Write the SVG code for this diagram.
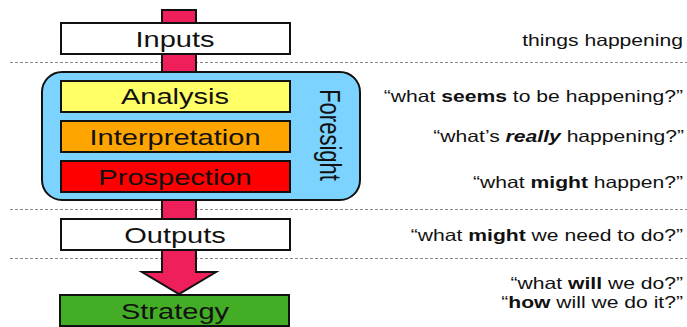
<svg xmlns="http://www.w3.org/2000/svg" width="687" height="327" viewBox="0 0 687 327">
<style>
.dash{stroke:#8a8a8a;stroke-width:1;stroke-dasharray:3,2;fill:none}
.box{stroke:#111;stroke-width:2}
.lbl{font-family:"Liberation Sans",Arial,sans-serif;font-size:22px;fill:#111;text-anchor:middle}
.q{font-family:"Liberation Sans",Arial,sans-serif;font-size:16.5px;fill:#111;text-anchor:end}
.b{font-weight:bold}
</style>
<rect width="687" height="327" fill="#fff"/>
<g id="separators">
<line class="dash" x1="10" y1="62.5" x2="687" y2="62.5"/>
<line class="dash" x1="10" y1="209.5" x2="687" y2="209.5"/>
<line class="dash" x1="10" y1="258.5" x2="687" y2="258.5"/>
</g>
<g id="connectors">
<path d="M162,10 L196,10 L196,272 L216,272 L179,294 L142,272 L162,272 Z" fill="#EE1F5B" stroke="#111" stroke-width="2" stroke-linejoin="miter"/>
</g>
<g id="foresight">
<rect x="42" y="72" width="318" height="128" rx="20" ry="20" fill="#7DD3FF" class="box"/>
<text class="lbl" font-size="21" transform="translate(320,135) scale(1.32,1) rotate(90)" x="0" y="0">Foresight</text>
</g>
<g id="inputs">
<rect x="61" y="23" width="229" height="31" fill="#fff" class="box"/>
<text class="lbl" transform="translate(175,46.5) scale(1.32,1)">Inputs</text>
</g>
<g id="analysis">
<rect x="61" y="81" width="229" height="31" fill="#FFFF66" class="box"/>
<text class="lbl" transform="translate(175,104) scale(1.32,1)">Analysis</text>
</g>
<g id="interpretation">
<rect x="61" y="121" width="229" height="31" fill="#FFA500" class="box"/>
<text class="lbl" transform="translate(175,144.5) scale(1.32,1)">Interpretation</text>
</g>
<g id="prospection">
<rect x="61" y="161" width="229" height="31" fill="#FF0000" class="box"/>
<text class="lbl" transform="translate(175,184.5) scale(1.32,1)">Prospection</text>
</g>
<g id="outputs">
<rect x="61" y="219" width="229" height="31" fill="#fff" class="box"/>
<text class="lbl" transform="translate(175,242.5) scale(1.32,1)">Outputs</text>
</g>
<g id="strategy">
<rect x="60" y="295" width="229" height="31" fill="#44AD26" class="box"/>
<text class="lbl" transform="translate(175,318.5) scale(1.32,1)">Strategy</text>
</g>
<g id="questions">
<text class="q" transform="translate(683,46) scale(1.28,1)">things happening</text>
<text class="q" transform="translate(683,102) scale(1.28,1)">“what <tspan class="b">seems</tspan> to be happening?”</text>
<text class="q" transform="translate(684,142) scale(1.28,1)">“what’s <tspan class="b" font-style="italic">really</tspan> happening?”</text>
<text class="q" transform="translate(683,188) scale(1.28,1)">“what <tspan class="b">might</tspan> happen?”</text>
<text class="q" transform="translate(683,241) scale(1.28,1)">“what <tspan class="b">might</tspan> we need to do?”</text>
<text class="q" transform="translate(683,289) scale(1.28,1)">“what <tspan class="b">will</tspan> we do?”</text>
<text class="q" transform="translate(683,308) scale(1.28,1)">“<tspan class="b">how</tspan> will we do it?”</text>
</g>
</svg>
